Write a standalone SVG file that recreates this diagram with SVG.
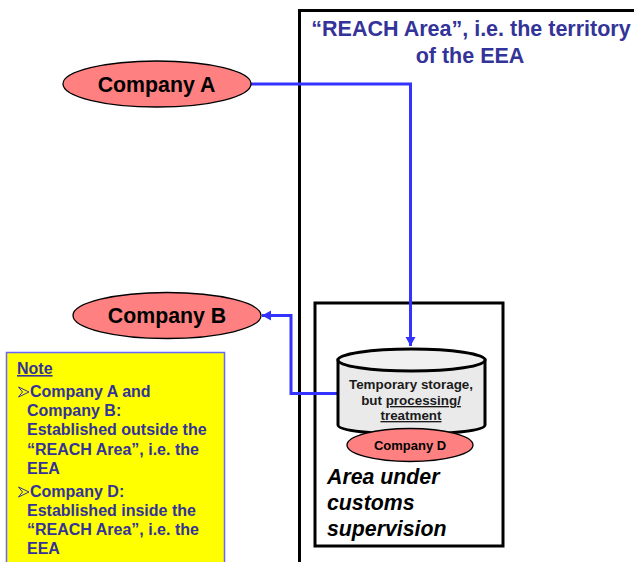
<svg xmlns="http://www.w3.org/2000/svg" width="634" height="562" viewBox="0 0 634 562">
<style>
text{font-family:"Liberation Sans",Arial,sans-serif;font-weight:bold}
.co{fill:#ff8080;stroke:#000;stroke-width:1.3}
.cn{font-size:21.300px;fill:#000;text-anchor:middle}
.title{font-size:21.500px;fill:#333399;text-anchor:middle}
.nt{font-size:16px;fill:#333399}
.bul{fill:none;stroke:#333399;stroke-width:1}
.wire{fill:none;stroke:#3333ff;stroke-width:3}
.box{fill:none;stroke:#000;stroke-width:3}
.cy{font-size:13.400px;fill:#1a1a1a;text-anchor:middle}
.it{font-size:21.300px;font-style:italic;fill:#000}
</style>
<defs>
<marker id="arr" markerUnits="userSpaceOnUse" markerWidth="12" markerHeight="12" refX="9" refY="5" orient="auto"><path d="M0 0L9 5L0 10Z" fill="#3333ff"/></marker>
</defs>
<rect width="634" height="562" fill="#fff"/>
<g id="reach-area">
<path class="box" d="M299.500 562V10.500H634"/>
<text class="title" x="471" y="36">“REACH Area”, i.e. the territory</text>
<text class="title" x="470" y="63">of the EEA</text>
</g>
<g id="customs-area">
<rect class="box" x="315" y="303" width="188" height="243"/>
<text class="it" x="327" y="484">Area under</text>
<text class="it" x="327" y="510">customs</text>
<text class="it" x="327" y="536">supervision</text>
</g>
<g id="connectors">
<path class="wire" d="M251 84H410.500V346" marker-end="url(#arr)"/>
<path class="wire" d="M337 393.500H291V315.500H262" marker-end="url(#arr)"/>
</g>
<g id="company-a">
<ellipse class="co" cx="157" cy="84" rx="94" ry="23"/>
<text class="cn" x="156.500" y="92">Company A</text>
</g>
<g id="company-b">
<ellipse class="co" cx="167" cy="315.500" rx="94" ry="23"/>
<text class="cn" x="167" y="323">Company B</text>
</g>
<g id="note">
<rect x="6.500" y="352.500" width="218" height="211" fill="#ffff00" stroke="#6666ff" stroke-width="1.500"/>
<text class="nt" x="17" y="374" text-decoration="underline">Note</text>
<path class="bul" d="M18.500 387L29 392L18.500 397L22.500 392Z"/>
<text class="nt" x="30" y="397">Company A and</text>
<text class="nt" x="27" y="416">Company B:</text>
<text class="nt" x="27" y="435">Established outside the</text>
<text class="nt" x="27" y="455">“REACH Area”, i.e. the</text>
<text class="nt" x="27" y="474">EEA</text>
<path class="bul" d="M18.500 487L29 492L18.500 497L22.500 492Z"/>
<text class="nt" x="30" y="497">Company D:</text>
<text class="nt" x="27" y="516">Established inside the</text>
<text class="nt" x="27" y="535">“REACH Area”, i.e. the</text>
<text class="nt" x="27" y="554">EEA</text>
</g>
<g id="storage">
<path d="M338 360V425C338 437 485 437 485 425V360Z" fill="#eaeaea" stroke="#000" stroke-width="3"/>
<ellipse cx="411.500" cy="360" rx="73.500" ry="11" fill="#f0f0f0" stroke="#000" stroke-width="3"/>
<text class="cy" x="411" y="389">Temporary storage,</text>
<text class="cy" x="411" y="405">but <tspan text-decoration="underline">processing/</tspan></text>
<text class="cy" x="411" y="420" text-decoration="underline">treatment</text>
</g>
<g id="company-d">
<ellipse class="co" cx="410" cy="445" rx="63" ry="16.500"/>
<text x="410" y="450" text-anchor="middle" font-size="13" fill="#000">Company D</text>
</g>
</svg>
